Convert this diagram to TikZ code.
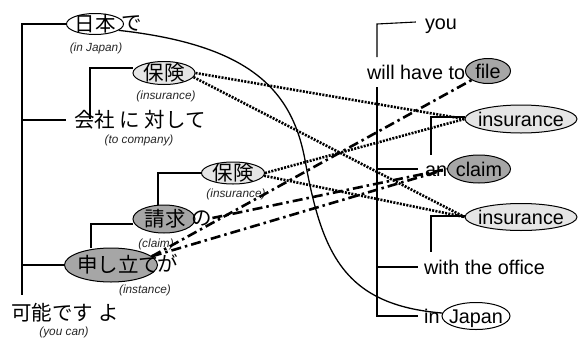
\documentclass[tikz,border=0pt]{standalone}
\usepackage{fontspec}
\setmainfont{Liberation Sans}
\newfontfamily\jp{Noto Sans CJK JP}
\usetikzlibrary{shapes.geometric}
\begin{document}
\begin{tikzpicture}[x=1pt,y=-1pt,
  en/.style={font=\fontsize{19.8}{22}\selectfont, inner sep=0pt, text height=14pt, text depth=0pt},
  ja/.style={font=\fontsize{20.5}{22}\selectfont\jp, inner sep=0pt, text height=15.2pt, text depth=0pt},
  gl/.style={font=\fontsize{11.8}{13}\selectfont\itshape, text=black!85, inner sep=0pt, text height=8.5pt, text depth=0pt},
  ell/.style={draw, ellipse, line width=1pt, inner sep=0pt},
  lite/.style={ell, fill=black!10},
  dark/.style={ell, fill=black!35},
  plain/.style={ell, fill=white},
  tree/.style={line width=1.1pt},
  dotl/.style={line width=2.6pt, dash pattern=on 2pt off 1.3pt},
  dashdot/.style={line width=2.6pt, dash pattern=on 10pt off 4pt on 2.5pt off 4pt},
  curve/.style={line width=1.3pt},
]
\useasboundingbox (0,0) rectangle (579,338);

% ---------------- left (Japanese) tree ----------------
\node[plain, minimum width=57pt, minimum height=21pt] (nihon) at (95,24) {};
\node[ja] (t-nihon) at (95,24) {日本};
\node[ja] (de) at (132,23) {で};
\node[gl] (g-nihon) at (96,47) {(in Japan)};

\node[lite, minimum width=62pt, minimum height=23pt] (hoken1) at (164,73) {};
\node[ja] (t-hoken1) at (164,73) {保険};
\node[gl] (g-hoken1) at (166,95) {(insurance)};

\node[ja] (kaisha) at (140,120) {会社 に 対して};
\node[gl] (g-kaisha) at (139,139) {(to company)};

\node[lite, minimum width=63pt, minimum height=22pt] (hoken2) at (233,173) {};
\node[ja] (t-hoken2) at (233,173) {保険};
\node[gl] (g-hoken2) at (236,193) {(insurance)};

\node[dark, minimum width=62pt, minimum height=28pt] (seikyu) at (164,219) {};
\node[ja] (t-seikyu) at (165,219) {請求};
\node[ja] (no) at (202,218) {の};
\node[gl] (g-seikyu) at (156,243) {(claim)};

\node[dark, minimum width=93pt, minimum height=34pt] (moushi) at (111,265) {};
\node[ja] (t-moushi) at (118,265) {申し立て};
\node[ja] (ga) at (168,264) {が};
\node[gl] (g-moushi) at (145,289) {(instance)};

\node[ja] (kanou) at (65,313) {可能です よ};
\node[gl] (g-kanou) at (64,331) {(you can)};

\coordinate (lt) at (22,24);
\coordinate (lb) at (22,295);
\draw[tree] (nihon.west) -- (lt) -- (lb);
\draw[tree] (lt |- kaisha) -- ([xshift=-8pt]kaisha.west);
\draw[tree] (lt |- moushi) -- (moushi.west);
\draw[tree] ([yshift=5pt]hoken1.west) -| ([xshift=-50pt,yshift=-7pt]kaisha.north);
\draw[tree] (hoken2.west) -| ([xshift=-6pt]seikyu.north);
\draw[tree] (seikyu.west) ++(0,5) coordinate (sw) -| ([xshift=-20pt]moushi.north);

% ---------------- right (English) tree ----------------
\node[en] (you) at (441,22) {you};
\node[en, anchor=west] (will) at (367,72) {will have to};
\node[en, anchor=west] (an) at (425,169) {an};
\node[en, anchor=west] (office) at (424,267) {with the office};
\node[en, anchor=west] (in) at (424,316) {in};

\node[dark, minimum width=45pt, minimum height=25pt] (file) at (488,71) {};
\node[en] (t-file) at (488,71) {file};
\node[lite, minimum width=112pt, minimum height=28pt] (ins1) at (521,119) {};
\node[en] (t-ins1) at (521,119) {insurance};
\node[dark, minimum width=63pt, minimum height=28pt] (claim) at (479,169) {};
\node[en] (t-claim) at (479,169) {claim};
\node[lite, minimum width=112pt, minimum height=27pt] (ins2) at (521,217) {};
\node[en] (t-ins2) at (521,217) {insurance};
\node[plain, minimum width=68pt, minimum height=27pt] (japan) at (476,316) {};
\node[en] (t-japan) at (476,316) {Japan};

\coordinate (rt) at (377,24);
\coordinate (rm) at (377,57);
\coordinate (rn) at (377,87);
\coordinate (rb) at (377,316);
\draw[tree] ([xshift=-9pt]you.west) -- (rt) -- (rm);
\draw[tree] (rn) -- (rb) -- ([xshift=-6pt]in.west);
\draw[tree] (rn |- an) -- ([xshift=-7pt]an.west);
\draw[tree] (rn |- office) -- ([xshift=-6pt]office.west);
\draw[tree] ([yshift=2pt]ins1.west) -| (431,155);
\draw[tree] ([yshift=1pt]ins2.west) -| (431,252);

% ---------------- alignment connectors ----------------
\draw[curve] (nihon.-15) .. controls (250,45) and (292,90) .. (305,160)
  .. controls (322,255) and (345,305) .. (japan.175);

\draw[dotl] (hoken1.east) -- (ins1.west);
\draw[dotl] (hoken1.-8) -- (ins2.west);
\draw[dotl] (hoken2.east) -- (ins1.west);
\draw[dotl] (hoken2.-5) -- (ins2.west);

\draw[dashdot] (moushi.12) -- (file);
\draw[dashdot] (moushi.12) -- (claim.west);
\draw[dashdot] (no.east) -- (claim.west);
\end{tikzpicture}
\end{document}
